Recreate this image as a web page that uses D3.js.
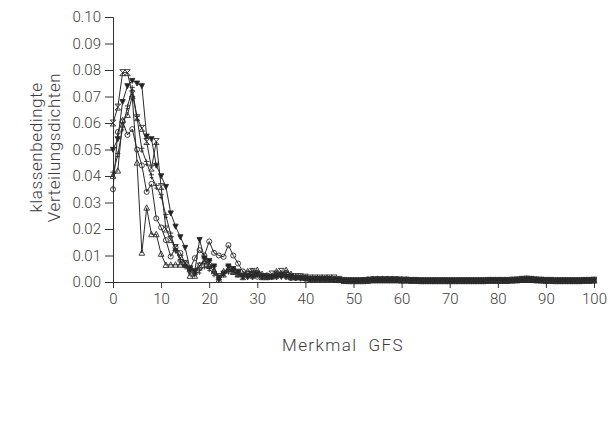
<!DOCTYPE html>
<html>
<head>
<meta charset="utf-8">
<script src="https://cdn.jsdelivr.net/npm/d3@7"></script>
<style>
  body { margin: 0; background: #fff; }
  svg { display: block; }
  text { font-family: Roboto, "Liberation Sans", Arial, sans-serif; font-weight: 300; fill: #3c3c3c; }
</style>
</head>
<body>
<svg id="chart" width="612" height="425"></svg>
<script>
// Merkmal GFS: class 0 … 100
const gfs = d3.range(0, 101);

// class-conditional densities, one array per class
const dichteSanduhr = [
  0.060,0.066,0.079,0.079,0.071,0.062,0.058,0.053,0.043,0.053,
  0.036,0.020,0.016,0.013,0.009,0.007,0.005,0.004,0.006,0.008,
  0.007,0.005,0.002,0.003,0.005,0.004,0.003,0.002,0.003,0.004,
  0.003,0.002,0.002,0.003,0.003,0.004,0.003,0.002,0.002,0.002,
  0.0018,0.0015,0.0015,0.0015,0.0015,0.0015,0.0015,0.0010,0.0006,0.0005,
  0.0005,0.0005,0.0005,0.0006,0.0008,0.0008,0.0008,0.0008,0.0008,0.0008,
  0.0007,0.0007,0.0006,0.0006,0.0005,0.0005,0.0005,0.0005,0.0005,0.0005,
  0.0005,0.0005,0.0005,0.0005,0.0005,0.0005,0.0005,0.0005,0.0006,0.0006,
  0.0006,0.0006,0.0006,0.0007,0.0008,0.0010,0.0011,0.0010,0.0008,0.0007,
  0.0006,0.0006,0.0005,0.0005,0.0005,0.0005,0.0005,0.0005,0.0006,0.0006,
  0.0007
];
const dichteDreieckUnten = [
  0.050,0.054,0.068,0.074,0.076,0.075,0.074,0.055,0.054,0.044,
  0.040,0.036,0.026,0.021,0.017,0.013,0.005,0.004,0.016,0.009,
  0.008,0.006,0.001,0.003,0.006,0.005,0.004,0.002,0.002,0.002,
  0.003,0.002,0.002,0.002,0.002,0.002,0.002,0.002,0.0015,0.0015,
  0.0015,0.0012,0.0012,0.0012,0.0012,0.0012,0.0010,0.0008,0.0005,0.0005,
  0.0005,0.0005,0.0005,0.0006,0.0008,0.0008,0.0008,0.0008,0.0008,0.0008,
  0.0007,0.0007,0.0006,0.0006,0.0005,0.0005,0.0005,0.0005,0.0005,0.0005,
  0.0005,0.0005,0.0005,0.0005,0.0005,0.0005,0.0005,0.0005,0.0006,0.0006,
  0.0006,0.0006,0.0006,0.0007,0.0008,0.0010,0.0011,0.0010,0.0008,0.0007,
  0.0006,0.0006,0.0005,0.0005,0.0005,0.0005,0.0005,0.0005,0.0006,0.0006,
  0.0007
];
const dichteDreieck = [
  0.040,0.042,0.061,0.063,0.070,0.045,0.011,0.028,0.018,0.018,
  0.0106,0.0064,0.0065,0.0065,0.0065,0.0065,0.0023,0.0023,0.0063,0.008,
  0.006,0.004,0.0008,0.004,0.005,0.004,0.003,0.003,0.004,0.004,
  0.0045,0.003,0.002,0.002,0.004,0.003,0.0045,0.003,0.002,0.002,
  0.0015,0.0012,0.0012,0.0012,0.0012,0.0012,0.0010,0.0008,0.0005,0.0005,
  0.0005,0.0005,0.0006,0.0007,0.0009,0.0009,0.0009,0.0009,0.0008,0.0008,
  0.0007,0.0007,0.0006,0.0006,0.0005,0.0005,0.0005,0.0005,0.0005,0.0005,
  0.0005,0.0005,0.0005,0.0005,0.0005,0.0005,0.0005,0.0005,0.0006,0.0006,
  0.0006,0.0006,0.0006,0.0007,0.0008,0.0010,0.0011,0.0010,0.0008,0.0007,
  0.0006,0.0006,0.0005,0.0005,0.0005,0.0005,0.0005,0.0005,0.0006,0.0006,
  0.0007
];
const dichteKreis = [
  0.035,0.0566,0.0606,0.0555,0.0577,0.050,0.044,0.034,0.037,0.024,
  0.0206,0.0158,0.0096,0.013,0.011,0.007,0.005,0.009,0.012,0.010,
  0.0153,0.011,0.010,0.0095,0.0139,0.010,0.007,0.004,0.0025,0.002,
  0.002,0.002,0.0025,0.002,0.002,0.0025,0.002,0.0015,0.0015,0.0015,
  0.0012,0.0012,0.0012,0.0012,0.0012,0.0010,0.0010,0.0008,0.0005,0.0005,
  0.0005,0.0005,0.0007,0.0010,0.0011,0.0012,0.0012,0.0012,0.0012,0.0011,
  0.0010,0.0009,0.0007,0.0006,0.0005,0.0005,0.0005,0.0005,0.0005,0.0005,
  0.0005,0.0005,0.0005,0.0005,0.0005,0.0005,0.0005,0.0005,0.0006,0.0006,
  0.0006,0.0006,0.0006,0.0007,0.0008,0.0010,0.0011,0.0010,0.0008,0.0007,
  0.0006,0.0006,0.0005,0.0005,0.0005,0.0005,0.0005,0.0005,0.0006,0.0006,
  0.0007
];
const dichteKreuz = [
  0.041,0.048,0.058,0.066,0.073,0.062,0.050,0.045,0.040,0.036,
  0.0325,0.025,0.018,0.012,0.008,0.006,0.004,0.003,0.004,0.006,
  0.005,0.003,0.002,0.003,0.004,0.004,0.003,0.002,0.002,0.003,
  0.003,0.002,0.002,0.002,0.003,0.003,0.003,0.002,0.002,0.0015,
  0.0015,0.0012,0.0012,0.0012,0.0012,0.0012,0.0010,0.0008,0.0005,0.0005,
  0.0005,0.0005,0.0005,0.0006,0.0008,0.0008,0.0008,0.0008,0.0008,0.0008,
  0.0007,0.0007,0.0006,0.0006,0.0005,0.0005,0.0005,0.0005,0.0005,0.0005,
  0.0005,0.0005,0.0005,0.0005,0.0005,0.0005,0.0005,0.0005,0.0006,0.0006,
  0.0006,0.0006,0.0006,0.0007,0.0008,0.0010,0.0011,0.0010,0.0008,0.0007,
  0.0006,0.0006,0.0005,0.0005,0.0005,0.0005,0.0005,0.0005,0.0006,0.0006,
  0.0007
];

const xTicks = [0,10,20,30,40,50,60,70,80,90,100];
const xMinorTicks = d3.range(0, 101, 2);
const yTicks = [0,0.01,0.02,0.03,0.04,0.05,0.06,0.07,0.08,0.09,0.10];
const yMinorTicks = [0.005,0.015,0.025,0.035,0.045,0.055,0.065,0.075,0.085,0.095];

const yTitle = ["klassenbedingte", "Verteilungsdichten"];
const xTitle = "Merkmal  GFS";

// marker glyphs (paths centred on 0,0)
const glyph = {
  hourglass: "M-2.8,-3H2.8L-2.8,3H2.8Z",
  triDown:   "M-2.6,-2.2H2.6L0,2.8Z",
  triUp:     "M0,-3L2.8,2.4H-2.8Z",
  circle:    d3.symbol(d3.symbolCircle, 20)(),
  cross:     "M0,-3.4V3.4M-2.6,-1.2H2.6M-1.8,1.6H1.8"
};

const series = [
  { values: dichteSanduhr,      mark: "hourglass", filled: false },
  { values: dichteDreieckUnten, mark: "triDown",   filled: true  },
  { values: dichteDreieck,      mark: "triUp",     filled: false },
  { values: dichteKreis,        mark: "circle",    filled: false },
  { values: dichteKreuz,        mark: "cross",     filled: false }
];

const svg = d3.select("#chart");
const x = d3.scaleLinear().domain([0, 100]).range([113, 594]);
const y = d3.scaleLinear().domain([0, 0.10]).range([282, 17]);

// axes
const gx = svg.append("g").attr("transform", `translate(0,${y(0)})`);
gx.call(d3.axisBottom(x).tickValues(xMinorTicks).tickSize(3).tickFormat(""));
gx.call(d3.axisBottom(x).tickValues(xTicks).tickSize(6).tickPadding(5).tickFormat(d3.format("d")));

const gy = svg.append("g").attr("transform", `translate(${x(0)},0)`);
gy.call(d3.axisLeft(y).tickValues(yMinorTicks).tickSize(3).tickFormat(""));
gy.call(d3.axisLeft(y).tickValues(yTicks).tickSize(8).tickPadding(4).tickFormat(d3.format(".2f")));

svg.selectAll(".domain").attr("stroke", "#333").attr("stroke-width", 1);
svg.selectAll(".tick line").attr("stroke", "#333");
svg.selectAll(".tick text")
   .attr("font-size", 15)
   .attr("fill", "#3c3c3c")
   .style("font-family", "Roboto, 'Liberation Sans', Arial, sans-serif")
   .style("font-weight", 300);

// curves and their markers
const line = d3.line().x((d, i) => x(gfs[i])).y(d => y(d));
const plot = svg.append("g");
series.forEach(s => {
  plot.append("path")
    .attr("d", line(s.values))
    .attr("fill", "none")
    .attr("stroke", "#2a2a2a")
    .attr("stroke-width", 1);
  plot.append("g").selectAll("path")
    .data(s.values)
    .join("path")
    .attr("d", glyph[s.mark])
    .attr("transform", (d, i) => `translate(${x(gfs[i])},${y(d)})`)
    .attr("fill", s.filled ? "#222" : "#fff")
    .attr("fill-opacity", s.filled ? 1 : 0)
    .attr("stroke", "#2a2a2a")
    .attr("stroke-width", 0.9);
});

// axis titles
svg.append("text")
  .attr("x", 343).attr("y", 351)
  .attr("text-anchor", "middle")
  .attr("font-size", 17)
  .attr("letter-spacing", 1.4)
  .style("white-space", "pre")
  .text(xTitle);

const yt = svg.append("text")
  .attr("transform", `translate(0,${(y(0) + y(0.1)) / 2 - 2}) rotate(-90)`)
  .attr("text-anchor", "middle")
  .attr("font-size", 17)
  .attr("letter-spacing", 0.6);
yTitle.forEach((t, i) => {
  yt.append("tspan").attr("x", 0).attr("y", 42 + i * 18).text(t);
});
</script>
</body>
</html>
